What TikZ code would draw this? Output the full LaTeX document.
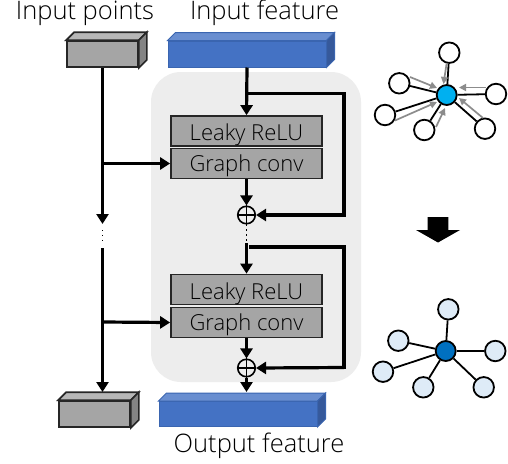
\documentclass[tikz,border=0pt]{standalone}
\usepackage{fontspec}
\setmainfont{Open Sans Light}
\usetikzlibrary{arrows.meta,calc}
\definecolor{panel}{HTML}{EDEDED}
\definecolor{boxgray}{HTML}{A5A5A5}
\definecolor{blueface}{HTML}{4472C4}
\definecolor{bluetop}{HTML}{698ED0}
\definecolor{blueside}{HTML}{36599B}
\definecolor{blueedge}{HTML}{3A65B0}
\definecolor{graytop}{HTML}{B7B7B7}
\definecolor{grayside}{HTML}{848484}
\definecolor{hubA}{HTML}{00B0F0}
\definecolor{hubB}{HTML}{0070C0}
\definecolor{leafB}{HTML}{DEEBF7}
\definecolor{flow}{HTML}{8C8C8C}
\tikzset{
  x=1pt,y=-1pt,
  label text/.style={inner sep=0pt,anchor=base,font=\fontsize{25.5}{28}\selectfont,text=black},
  layerbox/.style={draw=black!85,line width=1.7pt,fill=boxgray,minimum width=151pt,minimum height=30pt,inner sep=0pt},
  layer text/.style={inner sep=0pt,anchor=base,font=\fontsize{22}{24}\selectfont,text=black},
  cubegray/.style={draw=black!85,line width=1.7pt,fill=boxgray,inner sep=0pt},
  cubeblue/.style={draw=blueedge,line width=1pt,fill=blueface,inner sep=0pt},
  wire/.style={line width=3.2pt,draw=black},
  arrowed/.style={wire,-{Triangle[length=10pt,width=12pt]}},
  sumnode/.style={circle,draw=black,line width=1.6pt,minimum size=17.5pt,inner sep=0pt},
  leaf/.style={circle,draw=black,line width=1.8pt,fill=white,minimum size=20.5pt,inner sep=0pt},
  leafb/.style={leaf,fill=leafB},
  spoke/.style={draw=black,line width=1.8pt},
  flowarrow/.style={draw=flow,line width=1.7pt,-{Triangle[length=7pt,width=7pt]}},
  vdotsline/.style={draw=black,line width=1.2pt,dash pattern=on 1.3pt off 3.6pt},
}
\newcommand{\cubefaces}[3]{% node, top style, side style
  \path[#2] (#1.north west) -- ++(8,-8) -- ($(#1.north east)+(8,-8)$) -- (#1.north east) -- cycle;
  \path[#3] (#1.north east) -- ++(8,-8) -- ($(#1.south east)+(8,-8)$) -- (#1.south east) -- cycle;
}
\begin{document}
\begin{tikzpicture}
\useasboundingbox (0,0) rectangle (508,463);
\fill[white] (0,0) rectangle (508,463);
\fill[panel,rounded corners=30pt] (151,72) rectangle (361,382);

% labels
\node[label text] (lblpts) at (85,19.5) {Input points};
\node[label text] (lblin) at (264.5,19.5) {Input feature};
\node[label text] (lblout) at (259,452.5) {Output feature};

% cubes
\node[cubegray,minimum width=71pt,minimum height=26pt] (ptsin) at (102.5,54) {};
\node[cubeblue,minimum width=158pt,minimum height=26pt] (featin) at (247,54) {};
\node[cubegray,minimum width=71pt,minimum height=26pt] (ptsout) at (94.5,414) {};
\node[cubeblue,minimum width=158pt,minimum height=25pt] (featout) at (238,414) {};
\cubefaces{ptsin}{cubegray,fill=graytop}{cubegray,fill=grayside}
\cubefaces{featin}{cubeblue,fill=bluetop}{cubeblue,fill=blueside}
\cubefaces{ptsout}{cubegray,fill=graytop}{cubegray,fill=grayside}
\cubefaces{featout}{cubeblue,fill=bluetop}{cubeblue,fill=blueside}

% layer boxes
\node[layerbox] (relu1) at (246.5,131) {};
\node[layerbox] (conv1) at (246.5,163.5) {};
\node[layerbox] (relu2) at (246.5,289.5) {};
\node[layerbox] (conv2) at (246.5,322.5) {};
\node[layer text] (t1) at (246.5,140) {Leaky ReLU};
\node[layer text] (t2) at (246.5,171.5) {Graph conv};
\node[layer text] (t3) at (246.5,299) {Leaky ReLU};
\node[layer text] (t4) at (246.5,330.5) {Graph conv};

% sums
\node[sumnode] (sum1) at (246.5,215) {};
\node[sumnode] (sum2) at (246.5,368) {};
\draw[line width=1.4pt] (sum1.north) -- (sum1.south) (sum1.west) -- (sum1.east);
\draw[line width=1.4pt] (sum2.north) -- (sum2.south) (sum2.west) -- (sum2.east);

% coordinates
\coordinate (split1) at (246.5,93.5);
\coordinate (corner1a) at (344,93.5);
\coordinate (corner1b) at (344,215);
\coordinate (midtop) at (246.5,243);
\coordinate (split2) at (249,247);
\coordinate (corner2a) at (344,247);
\coordinate (corner2b) at (344,367.5);
\coordinate (leftdown) at (102.5,224);
\coordinate (leftresume) at (102.5,248);
\coordinate (tap1) at (102.5,163.5);
\coordinate (tap2) at (102.5,322);
\coordinate (featouttop) at (246.5,392);
\coordinate (ptsouttop) at (102.5,392);

% main flow
\draw[arrowed] (featin.south) -- (relu1.north);
\draw[wire,line join=miter] (split1) -- (corner1a) -- (corner1b) -- ++(-1,0);
\draw[arrowed] (corner1b) -- (sum1.east);
\draw[arrowed] (conv1.south) -- (sum1.north);
\draw[vdotsline] (sum1.south) -- (midtop);
\draw[arrowed] (midtop) -- (relu2.north);
\draw[wire,line join=miter] (split2) -- (corner2a) -- (corner2b) -- ++(-1,0);
\draw[arrowed] (corner2b) -- (sum2.east);
\draw[arrowed] (conv2.south) -- (sum2.north);
\draw[arrowed] (sum2.south) -- (featouttop);

% points flow
\draw[arrowed] (ptsin.south) -- (leftdown);
\draw[vdotsline] (leftdown) ++(0,6) -- (102.5,243);
\draw[arrowed] (leftresume) -- (ptsouttop);
\draw[arrowed] (tap1) -- (conv1.west);
\draw[arrowed] (tap2) -- (conv2.west);

% block arrow
\fill[black] (427.7,217) -- (448.3,217) -- (448.3,230) -- (460,230) -- (438,242.5) -- (416,230) -- (427.7,230) -- cycle;

% top graph
\coordinate (hubspot) at (446.7,95);
\node[leaf] (a1) at (449.3,52.7) {};
\node[leaf] (a2) at (399.3,83.3) {};
\node[leaf] (a3) at (385,115) {};
\node[leaf] (a4) at (424.3,130) {};
\node[leaf] (a5) at (485,128.7) {};
\node[leaf] (a6) at (496,94) {};
\node[circle,draw=black,line width=1.8pt,fill=hubA,minimum size=20pt,inner sep=0pt] (hubA) at (hubspot) {};
\foreach \n in {a1,a2,a3,a4,a5,a6} \draw[spoke] (\n) -- (hubA);
\coordinate (f1a) at (446.6,63.5); \coordinate (f1b) at (443.5,84);
\coordinate (f2a) at (410,77);     \coordinate (f2b) at (437,88);
\coordinate (f3a) at (395,120.5);  \coordinate (f3b) at (437,102);
\coordinate (f4a) at (436,127);    \coordinate (f4b) at (445,108);
\coordinate (f5a) at (483,118);    \coordinate (f5b) at (459,98);
\coordinate (f6a) at (486,87.5);   \coordinate (f6b) at (459,87.5);
\foreach \n in {1,...,6} \draw[flowarrow] (f\n a) -- (f\n b);

% bottom graph
\node[leafb] (b1) at (448.3,309.3) {};
\node[leafb] (b2) at (398.3,340.7) {};
\node[leafb] (b3) at (383,371.7) {};
\node[leafb] (b4) at (423.3,387.3) {};
\node[leafb] (b5) at (483.7,387.3) {};
\node[leafb] (b6) at (495.3,351) {};
\node[circle,draw=black,line width=1.8pt,fill=hubB,minimum size=20pt,inner sep=0pt] (hubB) at (445.7,351) {};
\foreach \n in {b1,b2,b3,b4,b5,b6} \draw[spoke] (\n) -- (hubB);
\end{tikzpicture}
\end{document}
